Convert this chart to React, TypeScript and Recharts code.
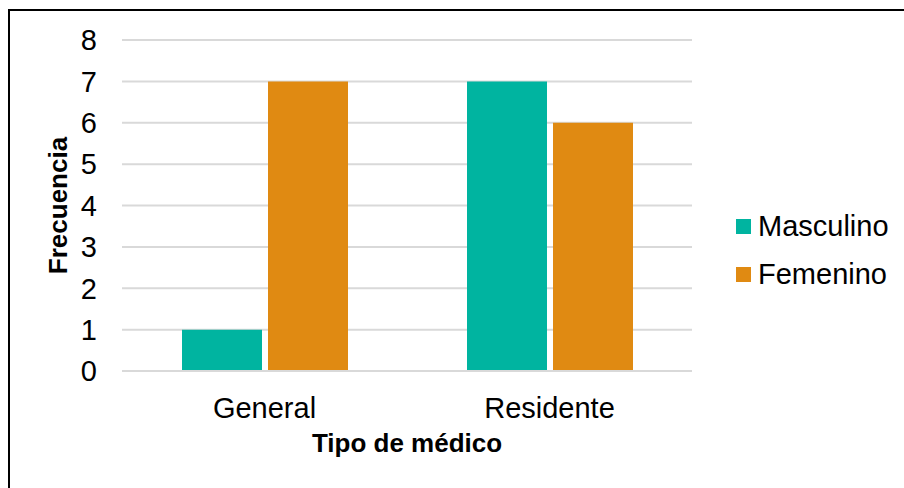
import React from "react";
import { BarChart, Bar, XAxis, YAxis, CartesianGrid } from "recharts";

const categories = ["General", "Residente"];
const masculino = [1, 7];
const femenino = [7, 6];
const yTicks = [0, 1, 2, 3, 4, 5, 6, 7, 8];

const seriesNames = { masculino: "Masculino", femenino: "Femenino" };
const colors = { masculino: "#00B4A0", femenino: "#E08A12" };

const data = categories.map((c, i) => ({
  name: c,
  masculino: masculino[i],
  femenino: femenino[i],
}));

const FONT = '"Liberation Sans", Arial, sans-serif';

const SeriesLegend = () => (
  <div
    style={{
      position: "absolute",
      left: 736,
      top: 202,
      fontFamily: FONT,
      fontSize: 29,
      color: "#000",
    }}
  >
    {(["masculino", "femenino"] as const).map((k) => (
      <div key={k} style={{ display: "flex", alignItems: "center", height: 48 }}>
        <span style={{ width: 15, height: 15, background: colors[k], display: "inline-block", marginRight: 7 }} />
        <span>{seriesNames[k]}</span>
      </div>
    ))}
  </div>
);

const YTitle = (props: any) => {
  const vb = props.viewBox || {};
  const cx = vb.x + 67;
  const cy = vb.y + vb.height / 2;
  return (
    <text
      x={cx}
      y={cy}
      transform={`rotate(-90 ${cx} ${cy})`}
      textAnchor="middle"
      fontFamily={FONT}
      fontWeight="bold"
      fontSize={26}
      fill="#000"
    >
      Frecuencia
    </text>
  );
};

export default function App() {
  return (
    <div style={{ position: "relative", width: 904, height: 488, background: "#fff" }}>
      <style>{`body{margin:0;overflow:hidden}`}</style>
      <div
        style={{
          position: "absolute",
          left: 8,
          top: 9,
          width: 896,
          height: 479,
          borderTop: "2px solid #000",
          borderLeft: "2px solid #000",
          boxSizing: "border-box",
          pointerEvents: "none",
        }}
      />
      <BarChart
        width={904}
        height={488}
        data={data}
        margin={{ top: 40, right: 212, left: 0, bottom: 0 }}
        barCategoryGap={60}
        barGap={6}
      >
        <CartesianGrid vertical={false} stroke="#d9d9d9" strokeWidth={2} />
        <XAxis
          dataKey="name"
          height={117}
          axisLine={{ stroke: "#d9d9d9", strokeWidth: 2 }}
          tickLine={false}
          tickSize={6}
          tickMargin={20}
          tick={{ fill: "#000", fontSize: 29, fontFamily: FONT }}
          label={{
            value: "Tipo de médico",
            position: "insideBottom",
            offset: 36,
            fill: "#000",
            fontSize: 26,
            fontWeight: "bold",
            fontFamily: FONT,
          }}
        />
        <YAxis
          width={122}
          domain={[0, 8]}
          ticks={yTicks}
          interval={0}
          axisLine={false}
          tickLine={false}
          tickSize={6}
          tickMargin={19}
          tick={{ fill: "#000", fontSize: 29, fontFamily: FONT }}
          label={<YTitle />}
        />
        <Bar dataKey="masculino" name={seriesNames.masculino} fill={colors.masculino} isAnimationActive={false} />
        <Bar dataKey="femenino" name={seriesNames.femenino} fill={colors.femenino} isAnimationActive={false} />
      </BarChart>
      <SeriesLegend />
    </div>
  );
}
